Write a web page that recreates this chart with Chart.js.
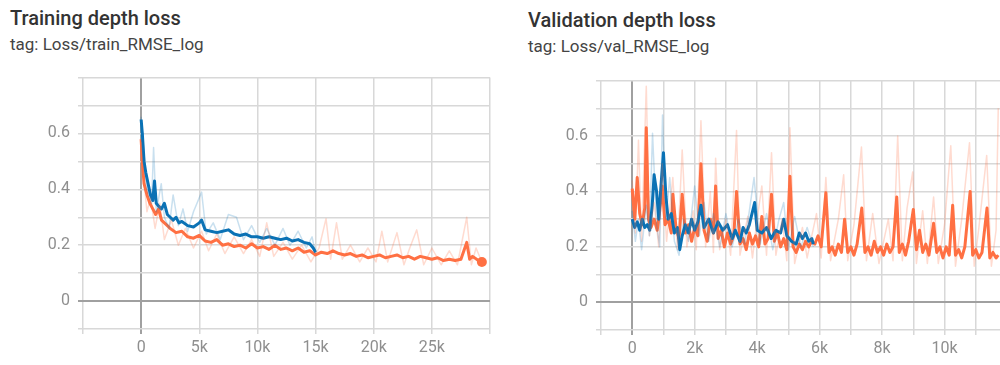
<!DOCTYPE html>
<html>
<head>
<meta charset="utf-8">
<script src="https://cdn.jsdelivr.net/npm/chart.js@4"></script>
<style>
  html, body { margin: 0; padding: 0; background: #fff; overflow: hidden; width: 1000px; height: 365px; }
  .title { position: absolute; font-family: Roboto, sans-serif; font-size: 20px; font-weight: 500; color: #333; line-height: 20px; white-space: nowrap; }
  .tag { position: absolute; font-family: Roboto, sans-serif; font-size: 17px; color: #444; line-height: 17px; white-space: nowrap; }
  .box { position: absolute; }
</style>
</head>
<body>
<div class="title" style="left:10px; top:8px;">Training depth loss</div>
<div class="tag" style="left:10px; top:36px;">tag: Loss/train_RMSE_log</div>
<div class="title" style="left:528px; top:10px;">Validation depth loss</div>
<div class="tag" style="left:528px; top:38px;">tag: Loss/val_RMSE_log</div>

<div class="box" style="left:0; top:60px; width:500px; height:305px;"><canvas id="trainChart"></canvas></div>
<div class="box" style="left:500px; top:63px; width:520px; height:305px;"><canvas id="valChart"></canvas></div>

<script>
// ---- training loss, run A (blue, stops ~15k) ----
const trainBlueSteps = [0, 100, 250, 400, 600, 800, 1000, 1150, 1300, 1500, 1750, 2000, 2250, 2500, 2750, 3000, 3250, 3500, 4000, 4500, 5000, 5200, 5500, 6000, 6500, 7000, 7500, 8000, 8500, 9000, 9500, 10000, 10500, 11000, 11500, 12000, 12500, 13000, 13500, 14000, 14500, 14800, 15000];
const trainBlueSmooth = [0.65, 0.60, 0.50, 0.46, 0.42, 0.38, 0.36, 0.43, 0.35, 0.34, 0.33, 0.35, 0.31, 0.30, 0.29, 0.30, 0.28, 0.285, 0.27, 0.265, 0.28, 0.29, 0.255, 0.25, 0.245, 0.25, 0.255, 0.24, 0.235, 0.24, 0.23, 0.23, 0.225, 0.23, 0.225, 0.22, 0.225, 0.215, 0.22, 0.21, 0.205, 0.19, 0.175];
const trainBlueRawSteps = [0, 300, 500, 900, 1070, 1300, 1730, 2000, 2400, 2750, 3200, 3600, 4000, 4500, 5200, 5600, 6200, 6800, 7500, 8200, 8800, 9500, 10200, 10800, 11500, 12200, 12800, 13500, 14200, 14700, 15000];
const trainBlueRaw = [0.66, 0.50, 0.40, 0.35, 0.55, 0.32, 0.42, 0.30, 0.26, 0.38, 0.27, 0.33, 0.25, 0.32, 0.39, 0.24, 0.28, 0.22, 0.31, 0.30, 0.22, 0.27, 0.21, 0.26, 0.20, 0.26, 0.20, 0.25, 0.19, 0.23, 0.17];

// ---- training loss, run B (orange, to ~29.3k) ----
const trainOrangeSteps = [0, 100, 250, 500, 750, 1000, 1250, 1500, 1750, 2000, 2500, 3000, 3500, 4000, 4500, 5000, 5500, 6000, 6500, 7000, 7500, 8000, 8500, 9000, 9500, 10000, 10500, 11000, 11500, 12000, 12500, 13000, 13500, 14000, 14500, 15000, 15500, 16000, 16500, 17000, 17500, 18000, 18500, 19000, 19500, 20000, 20500, 21000, 21500, 22000, 22500, 23000, 23500, 24000, 24500, 25000, 25500, 26000, 26500, 27000, 27500, 28000, 28250, 28500, 29000, 29300];
const trainOrangeSmooth = [0.58, 0.50, 0.42, 0.38, 0.35, 0.33, 0.31, 0.33, 0.29, 0.28, 0.26, 0.245, 0.25, 0.23, 0.225, 0.235, 0.215, 0.21, 0.22, 0.20, 0.205, 0.195, 0.20, 0.19, 0.205, 0.19, 0.195, 0.185, 0.20, 0.185, 0.19, 0.18, 0.19, 0.175, 0.18, 0.165, 0.175, 0.17, 0.18, 0.17, 0.165, 0.17, 0.16, 0.165, 0.155, 0.16, 0.165, 0.155, 0.16, 0.165, 0.155, 0.16, 0.15, 0.16, 0.155, 0.15, 0.155, 0.145, 0.15, 0.145, 0.15, 0.21, 0.15, 0.16, 0.145, 0.14];
const trainOrangeRawSteps = [0, 200, 500, 800, 1200, 1600, 2000, 2600, 3200, 3800, 4500, 5200, 5800, 6500, 7200, 8000, 8800, 9500, 10200, 10800, 11400, 12200, 13000, 13800, 14600, 15300, 15900, 16300, 16800, 17300, 18000, 18800, 19500, 20200, 20700, 21200, 22000, 22600, 23100, 23700, 24300, 25000, 25800, 26500, 27200, 28000, 28400, 28800, 29300];
const trainOrangeRaw = [0.57, 0.45, 0.32, 0.37, 0.26, 0.35, 0.22, 0.29, 0.20, 0.26, 0.19, 0.25, 0.18, 0.24, 0.17, 0.23, 0.17, 0.22, 0.16, 0.28, 0.16, 0.21, 0.15, 0.20, 0.14, 0.19, 0.295, 0.15, 0.28, 0.15, 0.20, 0.14, 0.19, 0.14, 0.25, 0.14, 0.245, 0.13, 0.19, 0.255, 0.13, 0.19, 0.13, 0.18, 0.13, 0.30, 0.13, 0.19, 0.14];

// ---- validation loss, run A (blue, stops ~5.8k) ----
const valBlueSteps = [0, 80, 160, 240, 320, 400, 480, 560, 640, 700, 780, 850, 920, 1000, 1080, 1150, 1250, 1350, 1450, 1520, 1600, 1700, 1800, 1900, 2000, 2100, 2200, 2300, 2450, 2600, 2750, 2900, 3050, 3200, 3300, 3450, 3550, 3650, 3750, 3920, 4000, 4150, 4300, 4450, 4600, 4750, 4850, 4950, 5100, 5250, 5350, 5450, 5550, 5650, 5750, 5800];
const valBlueSmooth = [0.30, 0.27, 0.29, 0.26, 0.30, 0.27, 0.28, 0.26, 0.35, 0.46, 0.40, 0.30, 0.42, 0.54, 0.38, 0.30, 0.32, 0.25, 0.27, 0.19, 0.24, 0.28, 0.25, 0.30, 0.26, 0.29, 0.35, 0.27, 0.30, 0.25, 0.29, 0.26, 0.28, 0.23, 0.26, 0.22, 0.27, 0.25, 0.28, 0.36, 0.26, 0.25, 0.27, 0.23, 0.26, 0.25, 0.30, 0.24, 0.22, 0.21, 0.25, 0.23, 0.25, 0.22, 0.23, 0.21];
const valBlueRawSteps = [0, 100, 200, 300, 450, 550, 650, 780, 880, 970, 1080, 1200, 1350, 1500, 1650, 1800, 2000, 2150, 2300, 2450, 2600, 2800, 3000, 3200, 3400, 3600, 3900, 4100, 4300, 4500, 4700, 4850, 5000, 5200, 5400, 5600, 5800];
const valBlueRaw = [0.33, 0.22, 0.30, 0.19, 0.35, 0.24, 0.61, 0.28, 0.20, 0.676, 0.30, 0.45, 0.22, 0.17, 0.30, 0.22, 0.42, 0.24, 0.36, 0.22, 0.32, 0.20, 0.32, 0.20, 0.30, 0.21, 0.45, 0.21, 0.32, 0.19, 0.30, 0.36, 0.19, 0.31, 0.20, 0.27, 0.20];

// ---- validation loss, run B (orange, to ~11.7k) ----
const valOrangeSteps = [0, 80, 160, 240, 320, 400, 450, 520, 600, 700, 800, 880, 960, 1050, 1150, 1250, 1300, 1400, 1500, 1600, 1700, 1800, 1900, 2000, 2100, 2200, 2300, 2400, 2500, 2600, 2670, 2750, 2850, 2950, 3050, 3150, 3250, 3340, 3450, 3550, 3650, 3750, 3850, 3950, 4050, 4150, 4250, 4350, 4460, 4550, 4650, 4750, 4850, 4950, 5050, 5150, 5250, 5350, 5450, 5550, 5650, 5750, 5850, 5950, 6050, 6200, 6300, 6400, 6500, 6600, 6700, 6800, 6900, 7000, 7100, 7200, 7350, 7450, 7550, 7650, 7750, 7850, 7950, 8050, 8150, 8250, 8350, 8470, 8550, 8650, 8750, 8850, 9000, 9100, 9200, 9300, 9400, 9500, 9650, 9750, 9850, 9950, 10050, 10150, 10260, 10350, 10450, 10550, 10650, 10820, 10900, 11000, 11100, 11200, 11360, 11450, 11550, 11650, 11720];
const valOrangeSmooth = [0.41, 0.30, 0.45, 0.32, 0.28, 0.34, 0.63, 0.30, 0.27, 0.30, 0.26, 0.33, 0.42, 0.28, 0.30, 0.25, 0.39, 0.27, 0.23, 0.39, 0.25, 0.28, 0.22, 0.27, 0.24, 0.50, 0.26, 0.22, 0.30, 0.25, 0.42, 0.23, 0.26, 0.20, 0.25, 0.21, 0.24, 0.40, 0.21, 0.23, 0.19, 0.25, 0.21, 0.24, 0.20, 0.31, 0.21, 0.23, 0.39, 0.22, 0.25, 0.20, 0.23, 0.19, 0.455, 0.20, 0.18, 0.21, 0.19, 0.22, 0.20, 0.22, 0.21, 0.24, 0.20, 0.395, 0.18, 0.20, 0.17, 0.21, 0.18, 0.30, 0.18, 0.20, 0.17, 0.21, 0.34, 0.18, 0.20, 0.17, 0.22, 0.18, 0.20, 0.17, 0.21, 0.18, 0.20, 0.38, 0.18, 0.21, 0.17, 0.22, 0.335, 0.19, 0.26, 0.18, 0.21, 0.17, 0.285, 0.18, 0.20, 0.16, 0.20, 0.17, 0.35, 0.17, 0.19, 0.16, 0.20, 0.40, 0.17, 0.19, 0.16, 0.18, 0.34, 0.16, 0.18, 0.16, 0.17];
const valOrangeRawSteps = [0, 100, 200, 300, 450, 550, 700, 850, 960, 1100, 1300, 1450, 1600, 1750, 1950, 2050, 2200, 2350, 2500, 2600, 2670, 2800, 3000, 3150, 3340, 3450, 3700, 3850, 4000, 4150, 4300, 4460, 4600, 4800, 4950, 5050, 5200, 5450, 5600, 5900, 6050, 6200, 6350, 6600, 6770, 6900, 7100, 7340, 7500, 7700, 7900, 8200, 8350, 8500, 8650, 8800, 8980, 9100, 9300, 9450, 9650, 9800, 10000, 10200, 10350, 10550, 10800, 10950, 11100, 11350, 11500, 11650, 11720];
const valOrangeRaw = [0.44, 0.25, 0.585, 0.22, 0.78, 0.24, 0.36, 0.20, 0.50, 0.22, 0.45, 0.19, 0.55, 0.20, 0.33, 0.19, 0.655, 0.20, 0.40, 0.18, 0.52, 0.19, 0.30, 0.17, 0.62, 0.17, 0.31, 0.16, 0.30, 0.42, 0.17, 0.54, 0.17, 0.30, 0.15, 0.63, 0.14, 0.27, 0.16, 0.32, 0.16, 0.45, 0.15, 0.30, 0.46, 0.15, 0.28, 0.56, 0.15, 0.32, 0.14, 0.30, 0.15, 0.60, 0.15, 0.34, 0.47, 0.14, 0.33, 0.14, 0.38, 0.14, 0.28, 0.565, 0.13, 0.30, 0.576, 0.13, 0.27, 0.53, 0.13, 0.26, 0.70];

const BLUE = '#0b72b5';
const ORANGE = '#ff7043';
const BLUE_FAINT = 'rgba(11, 114, 181, 0.22)';
const ORANGE_FAINT = 'rgba(255, 112, 67, 0.25)';

function pts(steps, vals) {
    return steps.map((s, i) => ({ x: s, y: vals[i] }));
}

function line(steps, vals, color, width, lastDot) {
    return {
        data: pts(steps, vals),
        borderColor: color,
        backgroundColor: color,
        borderWidth: width,
        borderJoinStyle: 'round',
        tension: 0,
        pointRadius: ctx => (lastDot && ctx.dataIndex === steps.length - 1) ? 5 : 0,
        pointBorderWidth: 0
    };
}

function gridColor(ctx) {
    return ctx.tick && ctx.tick.value === 0 ? '#a0a0a0' : '#d8d8d8';
}

function options(xMin, xMax, xStep, xLabel, yWidth, xHeight, pad) {
    return {
        responsive: true,
        maintainAspectRatio: false,
        animation: false,
        layout: { padding: pad },
        plugins: { legend: { display: false }, tooltip: { enabled: false } },
        scales: {
            x: {
                type: 'linear',
                min: xMin, max: xMax,
                border: { display: false },
                grid: { color: gridColor, lineWidth: ctx => ctx.tick && ctx.tick.value === 0 ? 2 : 1.5, tickLength: 5 },
                ticks: { stepSize: xStep, color: '#8f8f8f', font: { family: 'Roboto', size: 16 }, padding: 4, maxRotation: 0, autoSkip: false, callback: xLabel },
                afterFit: s => { s.height = xHeight; }
            },
            y: {
                min: -0.1, max: 0.8,
                border: { display: false },
                grid: { color: gridColor, lineWidth: ctx => ctx.tick && ctx.tick.value === 0 ? 2 : 1.5, tickLength: 5 },
                ticks: {
                    stepSize: 0.1, color: '#8f8f8f', font: { family: 'Roboto', size: 16 }, padding: 8,
                    callback: v => {
                        const t = Math.round(v * 10);
                        if (t < 0 || t > 6 || t % 2 !== 0) return '';
                        return t === 0 ? '0' : (t / 10).toFixed(1);
                    }
                },
                afterFit: s => { s.width = yWidth; }
            }
        }
    };
}

new Chart(document.getElementById('trainChart'), {
    type: 'line',
    data: {
        datasets: [
            line(trainBlueRawSteps, trainBlueRaw, BLUE_FAINT, 1.5, false),
            line(trainOrangeRawSteps, trainOrangeRaw, ORANGE_FAINT, 1.5, false),
            line(trainBlueSteps, trainBlueSmooth, BLUE, 3, false),
            line(trainOrangeSteps, trainOrangeSmooth, ORANGE, 3, true)
        ]
    },
    options: options(-5000, 30000, 5000,
        v => (v <= 0 && v !== 0) || v >= 30000 ? '' : (v === 0 ? '0' : (v / 1000) + 'k'),
        83, 36, { top: 10, right: 10, left: 0, bottom: 0 })
});

new Chart(document.getElementById('valChart'), {
    type: 'line',
    data: {
        datasets: [
            line(valBlueRawSteps, valBlueRaw, BLUE_FAINT, 1.5, false),
            line(valOrangeRawSteps, valOrangeRaw, ORANGE_FAINT, 1.5, false),
            line(valBlueSteps, valBlueSmooth, BLUE, 3, false),
            line(valOrangeSteps, valOrangeSmooth, ORANGE, 3, false)
        ]
    },
    options: options(-1000, 12000, 1000,
        v => (v < 0 || v > 10000 || v % 2000 !== 0) ? '' : (v === 0 ? '0' : (v / 1000) + 'k'),
        101, 38, { top: 10, right: 13, left: 0, bottom: 0 })
});
</script>
</body>
</html>
